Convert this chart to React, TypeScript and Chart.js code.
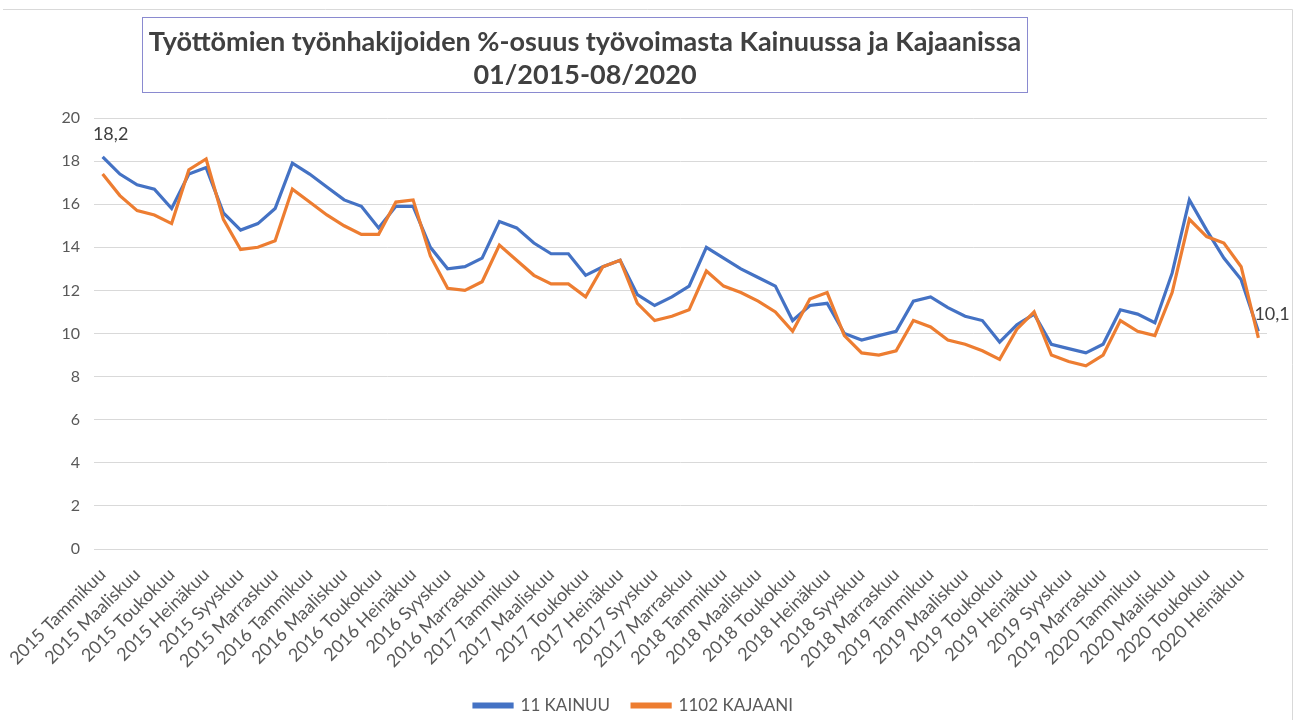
import React, { useEffect, useRef } from "react";
import { Chart, registerables } from "chart.js";

Chart.register(...registerables);

const years: number[] = [2015, 2016, 2017, 2018, 2019, 2020];
const monthNames: string[] = [
  "Tammikuu", "Helmikuu", "Maaliskuu", "Huhtikuu", "Toukokuu", "Kesäkuu",
  "Heinäkuu", "Elokuu", "Syyskuu", "Lokakuu", "Marraskuu", "Joulukuu",
];
const lastMonthCount = 8; // 2020: Jan..Aug

const categories: string[] = [];
years.forEach((y, yi) => {
  const n = yi === years.length - 1 ? lastMonthCount : 12;
  for (let m = 0; m < n; m++) categories.push(`${y} ${monthNames[m]}`);
});

const kainuu: number[] = [
  18.2, 17.4, 16.9, 16.7, 15.8, 17.4, 17.7, 15.6, 14.8, 15.1, 15.8, 17.9,
  17.4, 16.8, 16.2, 15.9, 14.9, 15.9, 15.9, 14.0, 13.0, 13.1, 13.5, 15.2,
  14.9, 14.2, 13.7, 13.7, 12.7, 13.1, 13.4, 11.8, 11.3, 11.7, 12.2, 14.0,
  13.5, 13.0, 12.6, 12.2, 10.6, 11.3, 11.4, 10.0, 9.7, 9.9, 10.1, 11.5,
  11.7, 11.2, 10.8, 10.6, 9.6, 10.4, 10.9, 9.5, 9.3, 9.1, 9.5, 11.1,
  10.9, 10.5, 12.8, 16.2, 14.8, 13.5, 12.5, 10.1,
];

const kajaani: number[] = [
  17.4, 16.4, 15.7, 15.5, 15.1, 17.6, 18.1, 15.3, 13.9, 14.0, 14.3, 16.7,
  16.1, 15.5, 15.0, 14.6, 14.6, 16.1, 16.2, 13.6, 12.1, 12.0, 12.4, 14.1,
  13.4, 12.7, 12.3, 12.3, 11.7, 13.1, 13.4, 11.4, 10.6, 10.8, 11.1, 12.9,
  12.2, 11.9, 11.5, 11.0, 10.1, 11.6, 11.9, 9.9, 9.1, 9.0, 9.2, 10.6,
  10.3, 9.7, 9.5, 9.2, 8.8, 10.2, 11.0, 9.0, 8.7, 8.5, 9.0, 10.6,
  10.1, 9.9, 11.9, 15.3, 14.5, 14.2, 13.1, 9.8,
];

const seriesNames: string[] = ["11 KAINUU", "1102 KAJAANI"];
const titleLines: string[] = [
  "Työttömien työnhakijoiden %-osuus työvoimasta Kainuussa ja Kajaanissa",
  "01/2015-08/2020",
];

const FONT = "Lato, 'Open Sans', sans-serif";

const decorPlugin = {
  id: "decor",
  beforeDraw(chart: any) {
    const ctx = chart.ctx;
    ctx.save();
    ctx.fillStyle = "#ffffff";
    ctx.fillRect(0, 0, chart.width, chart.height);
    ctx.strokeStyle = "#d9d9d9";
    ctx.lineWidth = 1;
    ctx.beginPath();
    ctx.moveTo(3, 9.5);
    ctx.lineTo(1292.5, 9.5);
    ctx.lineTo(1292.5, chart.height);
    ctx.stroke();
    // title box
    ctx.strokeStyle = "#8a8ad0";
    ctx.strokeRect(142.5, 17.5, 885, 75);
    ctx.fillStyle = "#404040";
    ctx.font = `bold 27px ${FONT}`;
    ctx.textAlign = "center";
    ctx.textBaseline = "middle";
    ctx.fillText(titleLines[0], 585, 42);
    ctx.fillText(titleLines[1], 585, 75);
    ctx.restore();
  },
  afterDatasetsDraw(chart: any) {
    const ctx = chart.ctx;
    const meta = chart.getDatasetMeta(0);
    const pts = meta.data;
    const first = pts[0];
    const last = pts[pts.length - 1];
    const vals = chart.data.datasets[0].data;
    const fmt = (v: number) => v.toFixed(1).replace(".", ",");
    ctx.save();
    ctx.fillStyle = "#404040";
    ctx.font = `18px ${FONT}`;
    ctx.textBaseline = "middle";
    ctx.textAlign = "center";
    ctx.fillText(fmt(vals[0]), first.x + 8, first.y - 23);
    ctx.textAlign = "left";
    ctx.fillText(fmt(vals[vals.length - 1]), last.x - 4, last.y - 17);
    ctx.restore();
  },
};

export default function App() {
  const ref = useRef<HTMLCanvasElement | null>(null);
  useEffect(() => {
    document.body.style.margin = "0";
    const canvas = ref.current;
    if (!canvas) return;
    const chart = new Chart(canvas, {
      type: "line",
      data: {
        labels: categories,
        datasets: [
          {
            label: seriesNames[0],
            data: kainuu,
            borderColor: "#4472C4",
            backgroundColor: "#4472C4",
            borderWidth: 3.2,
            pointRadius: 0,
            tension: 0,
            order: 1,
          },
          {
            label: seriesNames[1],
            data: kajaani,
            borderColor: "#ED7D31",
            backgroundColor: "#ED7D31",
            borderWidth: 3.2,
            pointRadius: 0,
            tension: 0,
            order: 0,
          },
        ],
      },
      options: {
        responsive: false,
        animation: false,
        layout: { padding: { left: 0, right: 30, top: 118, bottom: -4 } },
        plugins: {
          title: { display: false },
          tooltip: { enabled: false },
          legend: {
            position: "bottom",
            labels: {
              boxWidth: 38,
              boxHeight: 3,
              color: "#595959",
              font: { family: FONT, size: 17 },
              padding: 22,
              sort: (a: any, b: any) => a.datasetIndex - b.datasetIndex,
            },
          },
        },
        scales: {
          x: {
            type: "category",
            offset: true,
            grid: { display: false, drawTicks: false },
            border: { display: true, color: "#d9d9d9" },
            ticks: {
              autoSkip: false,
              minRotation: 45,
              maxRotation: 45,
              color: "#595959",
              font: { family: FONT, size: 18 },
              padding: 15,
              callback: (_v: any, i: number) => (i % 2 === 0 ? categories[i] : ""),
            },
            afterFit: (s: any) => {
              s.height = 126;
              s.paddingLeft = 0;
              s.paddingRight = 0;
            },
          },
          y: {
            min: 0,
            max: 20,
            ticks: {
              stepSize: 2,
              color: "#595959",
              font: { family: FONT, size: 16 },
              padding: 14,
            },
            grid: { color: "#d9d9d9", drawTicks: false },
            border: { display: false },
            afterFit: (s: any) => {
              s.width = 94;
            },
          },
        },
      },
      plugins: [decorPlugin],
    });
    return () => chart.destroy();
  }, []);
  return (
    <div style={{ width: 1297, height: 720 }}>
      <canvas ref={ref} width={1297} height={720} />
    </div>
  );
}
